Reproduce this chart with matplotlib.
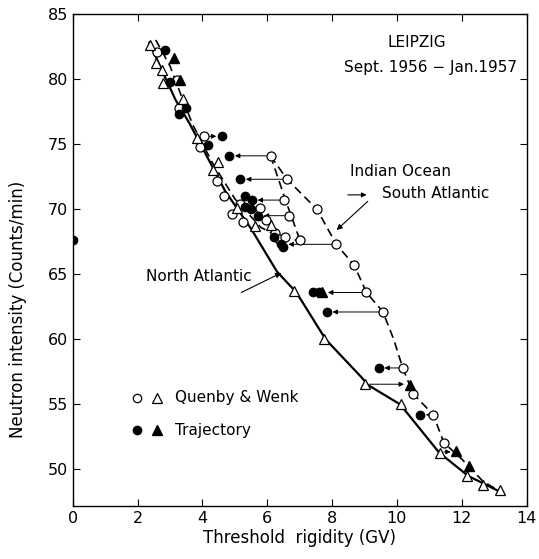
import matplotlib
matplotlib.use("Agg")
import matplotlib.pyplot as plt

# Quenby & Wenk (abiertos) y Trayectoria (rellenos)
qw_circ_x = [2.61, 3.22, 3.29, 4.06, 3.93, 4.44, 4.65, 5.16, 4.90, 5.77, 5.26, 5.97, 6.23, 6.36, 6.56,
             6.10, 6.61, 6.53, 6.67, 7.01, 7.53, 8.13, 8.68, 9.06, 9.57, 10.18, 10.51, 11.12, 11.45]
qw_circ_y = [82.1, 79.9, 77.8, 75.6, 74.8, 72.2, 71.0, 70.4, 69.6, 70.1, 69.0, 69.2, 68.2, 67.7, 67.9,
             74.1, 72.3, 70.7, 69.5, 67.6, 70.0, 67.3, 65.7, 63.6, 62.1, 57.8, 55.8, 54.2, 52.05]

traj_circ_x = [2.86, 3.00, 3.48, 3.27, 4.60, 4.17, 4.83, 5.17, 5.31, 5.53, 5.31, 5.51, 5.72, 6.21, 6.41,
               6.48, 7.40, 7.60, 7.84, 9.44, 10.72, 0.0]
traj_circ_y = [82.2, 79.8, 77.8, 77.3, 75.6, 74.9, 74.1, 72.3, 71.0, 70.7, 70.2, 70.0, 69.5, 67.9, 67.3,
               67.1, 63.6, 63.6, 62.1, 57.8, 54.2, 67.6]

qw_tri_x = [2.38, 2.56, 2.76, 2.79, 3.39, 3.83, 4.47, 4.34, 5.06, 5.62, 6.13, 6.84, 7.76, 9.03, 10.14,
            11.32, 12.16, 12.65, 13.18]
qw_tri_y = [82.6, 81.2, 80.7, 79.7, 78.5, 75.5, 73.6, 73.0, 70.1, 68.7, 68.8, 63.7, 60.0, 56.6, 55.0,
            51.3, 49.5, 48.8, 48.4]

traj_tri_x = [3.12, 3.32, 7.70, 10.39, 11.83, 12.22]
traj_tri_y = [81.6, 79.9, 63.65, 56.5, 51.4, 50.3]

# Curva North Atlantic (continua)
north_x = [2.36, 3.17, 3.60, 4.70, 5.50, 6.30, 6.90, 7.80, 8.90, 9.10, 10.10, 11.30, 12.20, 13.25]
north_y = [82.8, 78.4, 76.6, 71.4, 68.5, 65.2, 63.6, 60.0, 57.1, 56.5, 55.0, 51.3, 49.5, 48.2]

# Curvas Indian Ocean -> South Atlantic (discontinuas)
dash_a_x = [2.56, 3.00, 3.35, 3.70, 4.30, 5.00, 5.80, 6.50, 7.01]
dash_a_y = [83.0, 81.0, 78.7, 76.5, 73.6, 70.8, 68.6, 67.7, 67.6]
dash_b_x = [6.10, 6.55, 7.01]
dash_b_y = [74.1, 70.8, 67.6]
dash_c_x = [6.10, 6.61, 7.53, 8.13, 8.68, 9.06, 9.57, 9.90, 10.18, 10.39, 10.51, 11.12, 11.45, 12.00, 12.65, 13.25]
dash_c_y = [74.1, 72.3, 70.0, 67.3, 65.7, 63.6, 62.1, 60.0, 57.8, 56.5, 55.8, 54.2, 52.05, 50.8, 49.1, 48.2]

# Flechas: (x inicio, x fin, y)
flechas = [(6.10, 4.83, 74.1), (6.61, 5.17, 72.3), (6.53, 5.53, 70.7), (6.67, 5.72, 69.5),
           (8.13, 6.48, 67.3), (9.06, 7.70, 63.6), (9.57, 7.84, 62.1), (10.18, 9.44, 57.8),
           (9.03, 10.39, 56.55), (11.12, 10.72, 54.2), (11.32, 11.83, 51.35), (4.09, 4.60, 75.6)]

fig = plt.figure(figsize=(5.39, 5.59), dpi=100)
ax = fig.add_axes([0.135, 0.095, 0.842, 0.880])

ax.plot(north_x, north_y, color='black', lw=1.6)
for xs, ys in [(dash_a_x, dash_a_y), (dash_b_x, dash_b_y), (dash_c_x, dash_c_y)]:
    ax.plot(xs, ys, color='black', lw=1.2, ls=(0, (5, 3)))

for x0, x1, y in flechas:
    ax.annotate('', xy=(x1, y), xytext=(x0, y),
                arrowprops=dict(arrowstyle='-|>', lw=0.7, color='black', mutation_scale=7,
                                shrinkA=3, shrinkB=4))

ax.plot(qw_circ_x, qw_circ_y, 'o', ms=6.5, mfc='white', mec='black', mew=0.9, zorder=4)
ax.plot(qw_tri_x, qw_tri_y, '^', ms=7.5, mfc='white', mec='black', mew=0.9, zorder=4)
ax.plot(traj_circ_x, traj_circ_y, 'o', ms=6, color='black', zorder=5)
ax.plot(traj_tri_x, traj_tri_y, '^', ms=7, color='black', zorder=5)

# Leyenda dibujada a mano
ax.plot([1.99], [55.5], 'o', ms=6, mfc='white', mec='black', mew=0.9)
ax.plot([2.60], [55.5], '^', ms=7, mfc='white', mec='black', mew=0.9)
ax.text(3.15, 55.5, 'Quenby & Wenk', fontsize=11, va='center')
ax.plot([1.99], [53.0], 'o', ms=6, color='black')
ax.plot([2.60], [53.0], '^', ms=7, color='black')
ax.text(3.15, 53.0, 'Trajectory', fontsize=11, va='center')

ax.text(10.6, 82.8, 'LEIPZIG', fontsize=11, ha='center', va='center')
ax.text(11.05, 80.9, 'Sept. 1956 \u2212 Jan.1957', fontsize=11, ha='center', va='center')
ax.text(10.1, 72.9, 'Indian Ocean', fontsize=11, ha='center', va='center')
ax.text(11.2, 71.2, 'South Atlantic', fontsize=11, ha='center', va='center')
ax.annotate('', xy=(9.15, 71.1), xytext=(8.4, 71.1),
            arrowprops=dict(arrowstyle='-|>', lw=0.8, color='black', mutation_scale=7))
ax.annotate('', xy=(8.14, 68.4), xytext=(9.1, 70.6),
            arrowprops=dict(arrowstyle='-|>', lw=0.8, color='black', mutation_scale=8, shrinkA=0, shrinkB=0))
ax.text(3.9, 64.8, 'North Atlantic', fontsize=11, ha='center', va='center')
ax.annotate('', xy=(6.43, 65.1), xytext=(5.2, 63.6),
            arrowprops=dict(arrowstyle='-|>', lw=0.8, color='black', mutation_scale=8, shrinkA=0, shrinkB=0))

ax.set_xlim(0, 14)
ax.set_ylim(47.2, 85)
ax.set_xticks(range(0, 15, 2))
ax.set_yticks(range(50, 86, 5))
ax.tick_params(direction='in', top=True, right=True, labelsize=11.5, length=5, width=0.8)
ax.set_xlabel('Threshold  rigidity (GV)', fontsize=12, labelpad=2)
ax.set_ylabel('Neutron intensity (Counts/min)', fontsize=12)
ax.yaxis.set_label_coords(-0.10, 0.40)
for s in ax.spines.values():
    s.set_linewidth(1.0)

fig.savefig('out.png', dpi=100)
